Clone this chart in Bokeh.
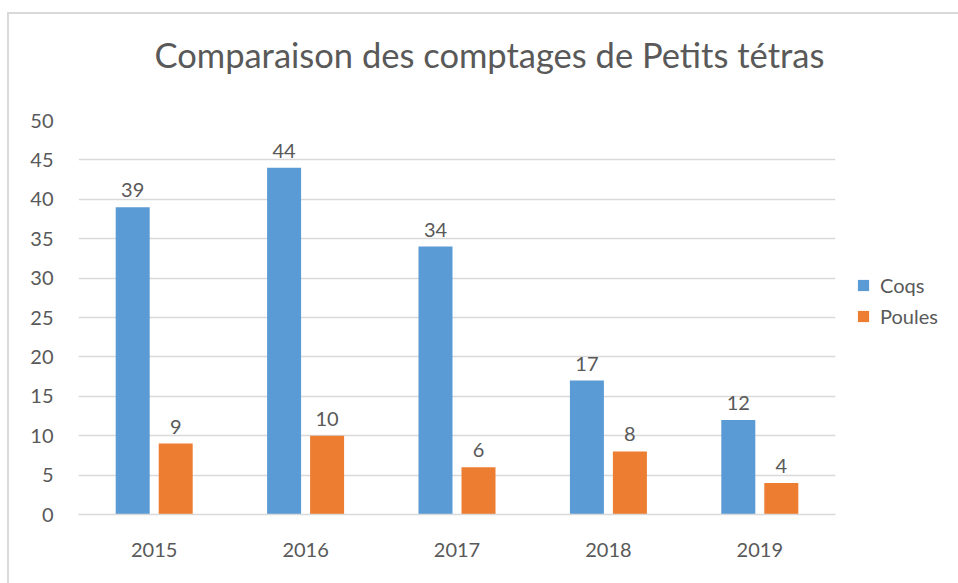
from bokeh.plotting import figure
from bokeh.models import ColumnDataSource, LabelSet, Legend, LegendItem, FactorRange, Range1d, SingleIntervalTicker, Title
from bokeh.core.properties import value
from bokeh.transform import dodge
from bokeh.embed import file_html
from bokeh.resources import INLINE

years = ["2015", "2016", "2017", "2018", "2019"]
coqs = [39, 44, 34, 17, 12]
poules = [9, 10, 6, 8, 4]
title_text = "Comparaison des comptages de Petits tétras"
series_names = ["Coqs", "Poules"]

BLUE = "#5b9bd5"
ORANGE = "#ed7d31"
TXT = "#595959"
GRID = "#d9d9d9"
FONT = "Lato"

src = ColumnDataSource(dict(year=years, coqs=coqs, poules=poules,
                            coqs_lbl=[str(v) for v in coqs],
                            poules_lbl=[str(v) for v in poules]))

p = figure(frame_width=757, frame_height=394, x_range=FactorRange(*years, range_padding=0),
           y_range=Range1d(0, 50), output_backend="svg", toolbar_location=None,
           min_border_left=69, min_border_right=123, min_border_top=106, min_border_bottom=69,
           title=None)
p.styles = {"border-left": "2px solid #d9d9d9", "border-top": "2px solid #d9d9d9",
            "margin-left": "7px", "margin-top": "12px"}
p.outline_line_color = None
p.background_fill_color = "white"
p.border_fill_color = "white"

off = 0.142
bw = 0.2246
r1 = p.vbar(x=dodge("year", -off, range=p.x_range), top="coqs", width=bw, source=src,
            fill_color=BLUE, line_color=None)
r2 = p.vbar(x=dodge("year", off, range=p.x_range), top="poules", width=bw, source=src,
            fill_color=ORANGE, line_color=None)

for col, lbl, o in (("coqs", "coqs_lbl", -off), ("poules", "poules_lbl", off)):
    ls = LabelSet(x=dodge("year", o, range=p.x_range), y=col, text=lbl, source=src,
                  text_align="center", text_baseline="alphabetic", y_offset=10,
                  text_font=value(FONT), text_font_size=value("20px"), text_color=TXT)
    p.add_layout(ls)

# axes
p.yaxis.ticker = SingleIntervalTicker(interval=5)
p.yaxis.axis_line_color = None
p.yaxis.major_tick_line_color = None
p.yaxis.minor_tick_line_color = None
p.yaxis.major_tick_out = 0
p.yaxis.major_label_standoff = 21
p.yaxis.major_label_text_font = FONT
p.yaxis.major_label_text_font_size = "20px"
p.yaxis.major_label_text_color = TXT

p.xaxis.axis_line_color = GRID
p.xaxis.axis_line_width = 1.5
p.xaxis.major_tick_line_color = None
p.xaxis.major_tick_out = 0
p.xaxis.major_label_standoff = 28
p.xaxis.major_label_text_font = FONT
p.xaxis.major_label_text_font_size = "20px"
p.xaxis.major_label_text_color = TXT

p.xgrid.grid_line_color = None
p.ygrid.grid_line_color = GRID
p.ygrid.grid_line_width = 1.5

# spacer between title and plot area, then the title itself
p.add_layout(Title(text=" ", text_font=FONT, text_font_size="20px", standoff=18), "above")
p.add_layout(Title(text=title_text, align="left", offset=76, standoff=0,
                   vertical_align="top",
                   text_font=FONT, text_font_size="34.5px", text_font_style="normal",
                   text_color=TXT), "above")

# legend
legend = Legend(items=[LegendItem(label=series_names[0], renderers=[r1]),
                       LegendItem(label=series_names[1], renderers=[r2])],
                location=(21, 186), orientation="vertical",
                padding=0, margin=0, spacing=7, label_standoff=10,
                glyph_width=14, glyph_height=14,
                label_text_font=FONT, label_text_font_size="20px", label_text_color=TXT,
                border_line_color=None, background_fill_alpha=0)
p.add_layout(legend, "right")

open("out.html", "w").write(file_html(p, INLINE))
